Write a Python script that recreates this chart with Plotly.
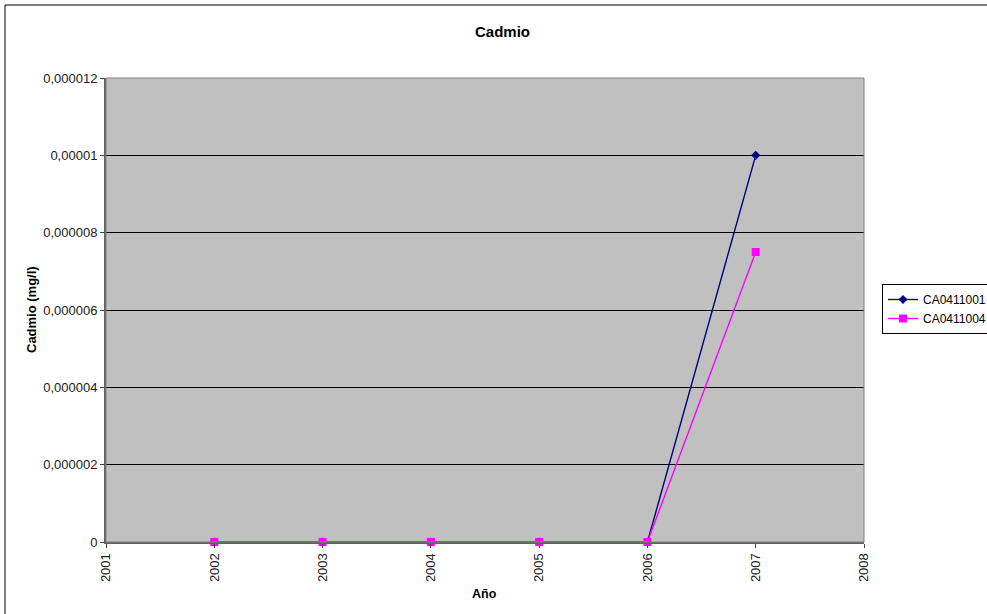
import plotly.graph_objects as go

years = [2002, 2003, 2004, 2005, 2006, 2007]
ca0411001 = [0, 0, 0, 0, 0, 0.00001]
ca0411004 = [0, 0, 0, 0, 0, 0.0000075]
y_tickvals = [0, 0.000002, 0.000004, 0.000006, 0.000008, 0.00001, 0.000012]
y_ticktext = ["0", "0,000002", "0,000004", "0,000006", "0,000008", "0,00001", "0,000012"]
x_tickvals = [2001, 2002, 2003, 2004, 2005, 2006, 2007, 2008]

FONT = "Liberation Sans, Arial, sans-serif"
L, R, T, B = 106, 123, 78, 72
W, H = 987, 614
pw, ph = W - L - R, H - T - B

def px_x(x):
    return (x - L) / pw

def px_y(y):
    return (H - B - y) / ph

fig = go.Figure()
fig.add_trace(go.Scatter(
    x=years, y=ca0411001, name="CA0411001", mode="lines+markers",
    line=dict(color="#000080", width=1.4),
    marker=dict(symbol="diamond", size=7, color="#000080"),
    cliponaxis=False,
))
fig.add_trace(go.Scatter(
    x=years, y=ca0411004, name="CA0411004", mode="lines+markers",
    line=dict(color="#FF00FF", width=1.4),
    marker=dict(symbol="square", size=8, color="#FF00FF"),
    cliponaxis=False,
))

fig.update_layout(
    width=W, height=H,
    margin=dict(l=L, r=R, t=T, b=B, autoexpand=False),
    paper_bgcolor="white", plot_bgcolor="#C0C0C0",
    font=dict(family=FONT, size=13, color="black"),
    showlegend=True,
    legend=dict(
        x=px_x(882), y=px_y(309), xanchor="left", yanchor="middle",
        bordercolor="black", borderwidth=1, bgcolor="white",
        font=dict(family=FONT, size=12, color="black"),
        itemwidth=30, tracegroupgap=0,
    ),
    xaxis=dict(
        range=[2001, 2008], tickvals=x_tickvals, ticktext=[str(v) for v in x_tickvals],
        tickangle=-90, showgrid=False, zeroline=False,
        showline=True, linecolor="#606060", linewidth=2,
        ticks="outside", ticklen=4, tickcolor="#404040",
        tickfont=dict(family=FONT, size=13, color="#202020"),
    ),
    yaxis=dict(
        range=[0, 0.000012], tickvals=y_tickvals, ticktext=y_ticktext,
        showgrid=True, gridcolor="black", gridwidth=1, zeroline=False,
        showline=True, linecolor="#606060", linewidth=2,
        ticks="outside", ticklen=4, tickcolor="#404040",
        tickfont=dict(family=FONT, size=13, color="#202020"),
    ),
    shapes=[
        dict(type="rect", xref="paper", yref="paper", x0=0, x1=1, y0=0, y1=1,
             line=dict(color="#808080", width=1), fillcolor="rgba(0,0,0,0)", layer="above"),
        dict(type="rect", xref="paper", yref="paper",
             x0=px_x(5), x1=px_x(995), y0=px_y(622), y1=px_y(5),
             line=dict(color="black", width=1), fillcolor="rgba(0,0,0,0)"),
    ],
    annotations=[
        dict(text="<b>Cadmio</b>", xref="paper", yref="paper", x=px_x(502), y=px_y(31),
             xanchor="center", yanchor="middle", showarrow=False,
             font=dict(family=FONT, size=15, color="black")),
        dict(text="<b>Año</b>", xref="paper", yref="paper", x=px_x(484), y=px_y(594),
             xanchor="center", yanchor="middle", showarrow=False,
             font=dict(family=FONT, size=12.5, color="black")),
        dict(text="<b>Cadmio (mg/l)</b>", xref="paper", yref="paper", x=px_x(31), y=px_y(310),
             xanchor="center", yanchor="middle", showarrow=False, textangle=-90,
             font=dict(family=FONT, size=13, color="black")),
    ],
)

fig.write_html("out.html", config={"displayModeBar": False},
               post_script="document.body.style.margin='0';document.body.style.overflow='hidden';")
